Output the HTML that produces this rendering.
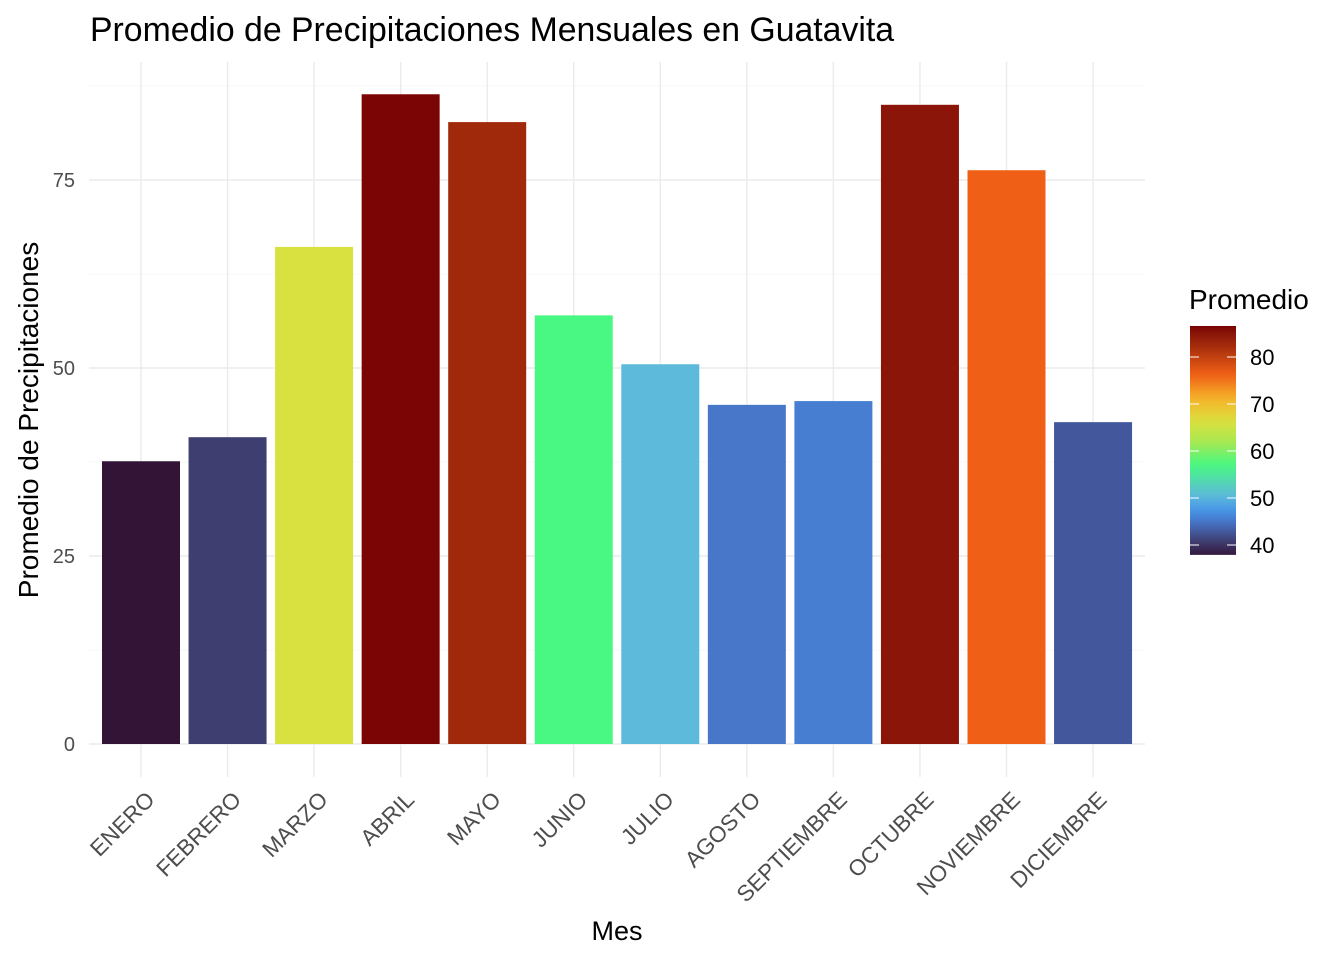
<!DOCTYPE html>
<html><head><meta charset="utf-8"><style>
body{margin:0;background:#fff;}
svg text{font-family:"Liberation Sans",Arial,sans-serif;}
</style></head><body>
<svg id="chart" width="1344" height="960" xmlns="http://www.w3.org/2000/svg">
<defs><linearGradient id="grad" x1="0" y1="1" x2="0" y2="0"></linearGradient></defs>
<text x="90" y="41" font-size="33.8" fill="#000">Promedio de Precipitaciones Mensuales en Guatavita</text>
<g id="grid"></g><g id="bars"></g><g id="axes"></g><g id="legend"></g>
<text x="617" y="940" font-size="27" text-anchor="middle" fill="#000">Mes</text>
<text transform="translate(38,420) rotate(-90)" font-size="28" text-anchor="middle" fill="#000">Promedio de Precipitaciones</text>
</svg>
<script>
const categories=["ENERO","FEBRERO","MARZO","ABRIL","MAYO","JUNIO","JULIO","AGOSTO","SEPTIEMBRE","OCTUBRE","NOVIEMBRE","DICIEMBRE"];
const values=[37.6,40.8,66.1,86.4,82.7,57.0,50.5,45.1,45.6,85.0,76.3,42.8];
const yTicks=[0,25,50,75];
const legendTicks=[40,50,60,70,80];
const NS="http://www.w3.org/2000/svg";
function el(t,a,p){const e=document.createElementNS(NS,t);for(const k in a)e.setAttribute(k,a[k]);p.appendChild(e);return e;}
const stops=[[37.6,"#331437"],[40.8,"#3F3E71"],[42.8,"#43589C"],[45.1,"#4877CA"],[47,"#4490E8"],[50.5,"#5DBADA"],[57,"#48F882"],[62,"#A8E850"],[66.1,"#D9E140"],[71,"#F5B52A"],[76.3,"#F05F16"],[82.7,"#A0290B"],[85,"#8A1508"],[86.6,"#780303"]];
function hex(c){return [1,3,5].map(i=>parseInt(c.substr(i,2),16));}
function color(v){if(v<=stops[0][0])return stops[0][1];for(let i=1;i<stops.length;i++){if(v<=stops[i][0]){const a=stops[i-1],b=stops[i],t=(v-a[0])/(b[0]-a[0]);const A=hex(a[1]),B=hex(b[1]);return "rgb("+A.map((x,j)=>Math.round(x+(B[j]-x)*t)).join(",")+")";}}return stops[stops.length-1][1];}
const y=v=>744-v*7.52;
const x=i=>141+i*86.55;
const grid=document.getElementById('grid'),bars=document.getElementById('bars'),axes=document.getElementById('axes'),leg=document.getElementById('legend');
for(let v=0;v<=87.5;v+=12.5){const g=el('line',{x1:89,x2:1145,y1:y(v),y2:y(v),stroke:v%25===0?"#ebebeb":"#f4f4f4","stroke-width":v%25===0?1.4:0.8},grid);

}
categories.forEach((c,i)=>{const g=el('line',{x1:x(i),x2:x(i),y1:62,y2:777,stroke:"#ebebeb","stroke-width":1.4},grid);


const r=el('rect',{x:x(i)-39,y:y(values[i]),width:78,height:y(0)-y(values[i]),fill:color(values[i])},bars);


const t=el('text',{transform:"translate("+(x(i)+15)+",801) rotate(-45)","text-anchor":"end","font-size":22.5,fill:"#4d4d4d"},axes);t.textContent=c;

});
yTicks.forEach(v=>{const t=el('text',{x:75,y:y(v)+7,"text-anchor":"end","font-size":20,fill:"#4d4d4d"},axes);t.textContent=v;

});
const gr=document.getElementById('grad');
const lo=37.9,hi=86.6;
for(let k=0;k<=30;k++){const v=lo+(hi-lo)*k/30;el('stop',{offset:(k/30),"stop-color":color(v)},gr);}
const ly=v=>545-(v-40)*4.7;
const lt=el('text',{x:1189,y:309,"font-size":28,fill:"#000"},leg);lt.textContent="Promedio";


const cb=el('rect',{x:1190,y:ly(hi),width:46,height:ly(lo)-ly(hi),fill:"url(#grad)"},leg);


legendTicks.forEach(v=>{el('line',{x1:1190,x2:1199,y1:ly(v),y2:ly(v),stroke:"#fff","stroke-width":1},leg);el('line',{x1:1227,x2:1236,y1:ly(v),y2:ly(v),stroke:"#fff","stroke-width":1},leg);
const t=el('text',{x:1250,y:ly(v)+8,"font-size":22,fill:"#000"},leg);t.textContent=v;

});
</script>
</body></html>
